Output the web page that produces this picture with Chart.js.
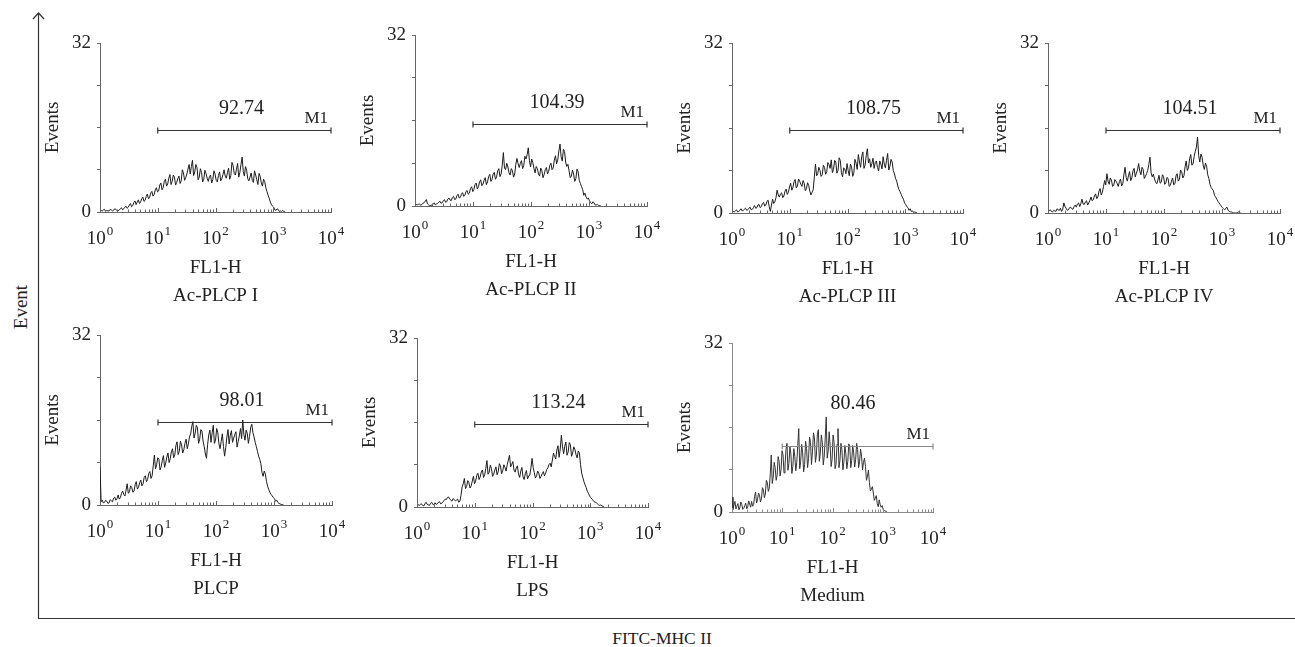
<!DOCTYPE html>
<html>
<head>
<meta charset="utf-8">
<script src="https://cdn.jsdelivr.net/npm/chart.js@4.4.0/dist/chart.umd.min.js"></script>
<style>
  body { margin: 0; background: #fff; width: 1295px; height: 647px; position: relative; overflow: hidden;
         font-family: "Liberation Serif", "DejaVu Serif", serif; color: #222; }
  canvas.panel { position: absolute; }
  #frame { position: absolute; left: 0; top: 0; }
  #eventTitle { position: absolute; left: 21px; top: 307px; transform: translate(-50%, -50%) rotate(-90deg);
                font-size: 19px; white-space: nowrap; }
  #fitcTitle { position: absolute; left: 662px; top: 638px; transform: translate(-50%, -50%);
               font-size: 17.5px; white-space: nowrap; }
</style>
</head>
<body>
<svg id="frame" width="1295" height="647">
  <line x1="38.5" y1="13" x2="38.5" y2="618.5" stroke="#333" stroke-width="1.2"/>
  <line x1="38" y1="618.5" x2="1295" y2="618.5" stroke="#333" stroke-width="1.2"/>
  <polyline points="33,19 38.5,13 44,19" fill="none" stroke="#333" stroke-width="1.2"/>
</svg>
<div id="eventTitle">Event</div>
<div id="fitcTitle">FITC-MHC II</div>

<script>
// FL1-H histograms, events per bin; one bin = 5 of 1024 log channels (4 decades)
const binWidth = 5;
const acPlcp1 = [
  0.4,0.3,0.2,0.4,0.5,0.1,0.3,0.2,0.2,0.5,0.4,0.2,0.3,0.6,0.5,0.3,0.2,0.4,0.6,0.8,
  0.4,0.6,0.9,1.1,0.7,0.9,1.3,1.6,1.0,1.2,1.8,2.1,1.4,1.9,2.3,1.6,1.9,2.5,2.8,2.0,
  2.2,3.0,3.4,2.5,2.8,3.6,3.9,3.0,3.3,4.2,4.6,3.8,4.0,5.1,5.5,4.2,4.6,5.8,6.2,4.9,
  5.3,6.4,7.1,5.2,5.8,7.0,6.6,5.1,5.6,6.3,6.8,5.4,5.9,8.0,7.4,6.0,6.5,7.2,8.1,9.0,
  7.2,8.6,9.8,6.9,7.6,9.0,8.4,6.1,6.6,8.2,7.5,5.7,6.2,7.9,7.3,6.4,5.8,6.7,7.0,5.5,
  6.1,7.8,7.2,6.0,5.7,6.9,7.6,5.9,6.3,7.1,8.0,6.8,6.4,7.5,8.3,6.2,6.9,9.4,8.8,7.3,
  7.0,8.1,9.2,6.6,7.5,9.0,10.4,7.7,6.8,8.6,7.9,6.3,5.9,6.6,7.4,6.0,5.6,7.8,7.0,6.1,
  5.2,7.3,6.8,5.5,4.9,6.2,5.8,4.6,3.9,3.2,2.6,1.9,1.4,1.1,0.9,0.4,0.3,0.6,0.5,0.1,
  0.2,0.1,0.3,0.1,0];
const acPlcp2 = [
  0.5,0.3,0.2,0.3,0.4,0.1,0.3,0.5,0.6,0.9,1.2,0.4,0.2,0.1,0.1,0.2,0.3,0.6,0.2,0.4,
  0.5,0.7,0.9,0.5,0.6,1.0,1.2,0.7,0.8,1.3,1.5,1.1,1.0,1.6,1.8,1.2,1.3,1.9,2.2,1.5,
  1.6,2.2,2.5,1.8,2.0,2.7,2.9,2.2,2.4,3.3,3.6,2.7,3.1,4.0,4.3,3.2,3.6,4.5,4.9,3.8,
  4.1,4.8,5.3,4.0,4.5,5.5,5.9,4.6,5.0,6.0,6.3,5.0,5.4,6.6,7.0,5.5,6.0,7.6,10.0,7.1,
  6.8,8.0,7.3,6.2,5.8,7.0,6.6,5.4,6.0,7.8,8.9,7.9,7.2,8.0,8.5,7.0,7.6,9.3,8.8,9.6,
  10.9,8.5,7.3,8.8,8.1,7.0,6.2,7.4,7.0,6.0,5.6,7.1,6.6,5.3,5.9,6.8,7.2,6.0,6.5,7.6,
  8.0,6.8,7.1,8.6,9.4,7.9,8.6,10.3,11.6,9.2,8.4,10.6,10.2,8.2,7.4,7.8,6.6,5.3,5.6,6.7,
  6.0,4.6,5.1,6.9,6.4,4.8,4.2,3.6,3.1,2.0,2.4,1.7,1.3,1.5,1.0,0.6,0.4,0.8,0.6,0.2,
  0.2,0.3,0.1,0.1,0];
const acPlcp3 = [
  0.4,0.3,0.2,0.4,0.6,0.2,0.3,0.5,0.8,0.4,0.5,0.7,0.9,0.5,0.6,0.9,1.1,0.6,0.7,1.0,
  1.4,0.9,1.0,1.5,1.6,1.0,1.2,1.8,2.0,1.3,1.5,2.2,2.4,1.2,0.3,1.5,2.6,1.8,2.1,2.9,
  4.3,3.4,3.0,3.6,3.8,2.9,3.2,4.1,4.5,3.5,3.9,4.9,5.6,4.3,4.8,5.9,6.3,4.7,5.1,6.4,
  6.0,5.4,5.0,6.1,5.6,4.2,4.6,5.7,5.2,4.1,3.4,3.9,4.4,6.8,9.2,7.0,7.4,8.6,8.0,6.9,
  7.2,9.0,8.6,7.3,7.8,9.5,9.1,8.4,10.0,7.6,8.2,9.9,9.6,7.5,8.0,10.4,9.9,7.6,6.8,8.5,
  8.3,7.4,9.3,8.0,7.0,9.2,8.7,6.9,7.5,10.1,9.4,8.2,11.0,9.6,8.6,10.6,11.5,8.4,9.0,10.8,
  12.1,9.4,10.2,8.6,9.3,10.3,8.4,9.5,9.8,8.6,7.9,9.8,9.2,8.3,10.6,9.2,8.5,9.9,11.2,8.1,
  8.8,10.1,9.6,8.0,7.4,6.5,6.0,5.1,4.4,4.0,3.5,3.0,2.6,1.9,1.6,1.2,1.0,0.5,0.8,0.3,
  0.4,0.1,0.2,0.1,0];
const acPlcp4 = [
  0.3,0.4,0.6,0.3,0.2,0.5,0.4,0.3,0.8,0.6,0.5,0.9,0.3,0.7,1.9,1.2,0.9,0.5,0.6,1.0,
  1.1,0.8,0.7,1.2,1.5,1.1,1.7,1.9,1.2,1.8,2.6,1.7,1.6,2.1,2.3,1.5,1.9,2.4,3.0,2.3,
  2.5,3.2,3.6,2.7,3.0,4.1,4.6,3.4,3.9,5.0,6.1,5.3,7.4,6.0,5.4,6.6,6.2,5.0,5.2,6.3,
  6.0,5.6,5.0,5.9,6.4,5.1,5.5,7.2,8.6,6.7,6.0,7.0,7.8,6.1,6.6,7.9,8.4,6.8,7.5,8.1,
  9.3,7.9,7.2,8.6,8.2,6.5,6.9,7.4,8.0,9.1,10.5,7.6,6.8,7.3,6.4,5.8,5.5,6.2,7.1,5.6,
  5.8,7.2,6.9,5.4,5.6,6.7,6.5,5.0,5.2,6.0,6.6,5.3,5.5,7.0,7.4,6.0,6.3,8.1,7.8,6.6,
  7.0,8.7,9.8,8.0,8.5,10.2,11.0,9.0,9.2,10.6,11.6,12.4,14.3,10.8,9.6,11.1,10.5,9.0,8.2,9.4,
  8.8,7.2,6.5,5.4,4.8,4.5,4.2,3.3,3.0,2.6,2.2,1.9,1.6,1.3,1.0,0.8,0.6,0.9,1.1,0.5,
  0.3,0.2,0.2,0.1,0,0,0,0,0.2,0.1,0];
const plcp = [
  7.2,0.6,0.9,0.4,0.5,0.9,0.7,0.3,0.4,1.0,0.8,0.6,1.3,1.5,0.9,1.2,1.9,1.1,1.4,2.2,
  2.6,2.0,1.7,2.8,4.0,2.2,2.5,3.6,3.3,2.4,2.6,3.8,4.4,3.0,3.3,4.2,4.7,3.6,4.0,5.2,
  5.5,4.4,4.8,5.9,6.3,5.0,5.5,7.4,9.4,6.8,7.6,8.9,8.6,6.6,7.2,8.4,9.3,7.1,7.9,9.0,
  9.8,8.0,8.7,10.0,10.6,8.9,9.4,11.2,11.9,9.5,10.1,12.0,11.3,9.8,10.4,11.6,12.4,10.6,11.5,12.8,
  13.4,14.8,15.7,12.6,13.5,15.0,14.6,11.6,12.4,14.2,13.9,12.0,11.0,9.6,8.8,11.4,13.2,14.1,11.8,13.6,
  15.0,11.6,12.2,14.4,13.6,11.5,10.6,12.0,13.4,11.0,9.2,10.8,12.8,14.2,11.5,13.1,14.0,11.8,12.6,13.3,
  13.8,10.9,12.0,13.0,14.4,12.5,16.0,13.3,12.2,14.1,13.5,11.6,12.9,14.6,15.2,13.6,12.8,11.8,11.0,10.1,
  9.2,8.6,7.8,6.1,5.4,6.4,5.8,4.4,3.5,2.9,2.4,2.0,1.7,1.4,1.2,0.7,0.9,0.5,0.3,0.2,
  0.1,0.1,0];
const lps = [
  0.8,0.4,0.3,0.5,0.6,0.3,0.2,0.6,0.9,0.5,0.4,0.3,0.7,0.9,0.5,0.4,0.8,0.5,0.6,0.9,
  1.0,0.6,0.7,1.0,1.2,1.5,1.4,1.8,1.9,1.5,1.3,1.1,1.6,1.4,1.2,1.3,1.5,0.9,1.1,2.2,
  3.8,4.4,5.4,3.5,3.9,5.0,4.6,3.6,4.0,4.9,5.8,4.4,4.9,6.0,6.4,5.2,5.7,6.6,7.0,5.6,
  6.1,7.3,8.8,6.2,6.6,7.9,7.3,5.8,6.2,7.0,7.6,6.1,6.7,8.2,7.8,6.3,6.9,8.0,7.5,6.8,
  8.0,8.9,9.8,7.6,8.1,8.6,7.0,6.6,7.4,7.8,6.2,5.6,6.8,7.5,5.7,5.2,6.3,6.9,5.3,5.9,
  6.0,7.4,9.2,7.5,6.5,5.5,5.9,6.8,6.4,5.4,5.8,6.3,6.7,5.9,6.4,7.1,7.4,8.0,8.3,7.6,
  8.9,10.2,9.6,9.1,10.8,11.6,9.4,11.0,13.6,11.4,10.1,11.5,12.3,9.8,10.4,12.2,11.8,9.6,10.2,11.4,
  10.9,9.9,9.3,10.6,10.2,8.0,6.4,5.6,4.8,4.2,3.7,3.0,2.6,2.1,1.8,1.5,1.3,1.0,0.9,0.8,
  0.6,0.4,0.3,0.4,0.2,0.1,0];
const medium = [
  2.8,0.5,1.3,2.0,0.6,1.1,1.6,0.4,0.8,1.9,1.4,0.5,0.7,1.2,1.7,0.6,1.0,2.1,1.5,0.9,
  2.0,1.1,1.4,2.9,3.8,1.7,2.3,3.6,3.2,1.9,2.5,4.6,4.2,2.7,3.4,6.0,5.6,3.9,4.5,7.2,
  10.8,5.4,6.6,9.4,8.4,6.0,7.0,10.5,9.6,6.8,8.0,11.6,10.8,7.4,8.7,11.8,13.0,7.9,9.2,12.4,
  11.0,7.3,8.6,12.0,10.5,7.8,9.4,12.6,15.8,8.2,9.6,12.8,11.2,7.6,9.0,13.4,12.0,8.4,10.1,14.2,
  13.2,9.0,11.4,15.0,14.0,9.4,10.8,14.8,15.6,9.6,11.2,14.6,13.2,8.9,10.6,14.0,18.0,10.2,11.5,15.2,
  12.6,8.6,10.0,14.6,13.2,8.2,9.0,12.8,15.8,8.4,9.8,13.0,11.8,8.0,9.4,12.6,11.0,8.2,9.6,12.9,
  12.4,8.4,9.8,12.6,11.2,8.5,10.0,13.0,11.8,8.4,9.6,11.9,10.6,8.0,9.4,10.2,8.6,6.0,6.8,7.9,
  5.6,4.0,4.3,4.8,3.6,2.2,2.6,3.1,1.6,1.0,2.3,1.4,0.9,1.2,0.5,0.3,0.2,0.1,0];

const panelSeries = [acPlcp1, acPlcp2, acPlcp3, acPlcp4, plcp, lps, medium];
const panelNames = ['Ac-PLCP I', 'Ac-PLCP II', 'Ac-PLCP III', 'Ac-PLCP IV', 'PLCP', 'LPS', 'Medium'];
const gateValues = ['92.74', '104.39', '108.75', '104.51', '98.01', '113.24', '80.46'];
const gateLevels = [15.5, 15.3, 15.6, 15.6, 15.6, 15.7, 12.5];
const xTickChannels = [0, 256, 512, 768, 1024];
const xTickExponents = ['0', '1', '2', '3', '4'];
const yTickValues = [0, 8, 16, 24, 32];
const yTickLabels = ['0', '', '', '', '32'];

// plot area of each panel on the page (left, top, right, bottom)
const boxes = [
  [100, 43, 331, 212], [415, 35, 647, 206], [732, 43, 963, 213], [1048, 43, 1280, 213],
  [100, 335, 332, 505], [417, 338, 648, 507], [732, 343, 933, 512]
];
const padL = 70, padT = 20, padR = 25, padB = 100;
const serif = '"Liberation Serif", "DejaVu Serif", serif';

// small log ticks pointing up from the x axis
const minorTicks = {
  id: 'minorTicks',
  afterDraw(chart, args, opts) {
    const x = chart.scales.x, ctx = chart.ctx, yb = chart.chartArea.bottom;
    ctx.save();
    ctx.strokeStyle = opts.color;
    ctx.lineWidth = 1;
    ctx.beginPath();
    for (let d = 0; d < 4; d++) {
      for (let k = 1; k <= 10; k++) {
        const px = Math.round(x.getPixelForValue(256 * (d + Math.log10(k)))) + 0.5;
        const len = (k === 1 || k === 10) ? 4 : 2.5;
        ctx.moveTo(px, yb);
        ctx.lineTo(px, yb - len);
      }
    }
    ctx.stroke();
    ctx.restore();
  }
};

// 10^n labels with a raised exponent
const decadeLabels = {
  id: 'decadeLabels',
  afterDraw(chart) {
    const x = chart.scales.x, ctx = chart.ctx, y0 = chart.chartArea.bottom + 27;
    ctx.save();
    ctx.fillStyle = '#222';
    ctx.textBaseline = 'middle';
    ctx.textAlign = 'left';
    xTickChannels.forEach((c, k) => {
      ctx.font = '19px ' + serif;
      const wb = ctx.measureText('10').width;
      ctx.font = '13px ' + serif;
      const we = ctx.measureText(xTickExponents[k]).width;
      const left = x.getPixelForValue(c) - (wb + we + 1) / 2;
      ctx.font = '19px ' + serif;
      ctx.fillText('10', left, y0);
      ctx.font = '13px ' + serif;
      ctx.fillText(xTickExponents[k], left + wb + 1, y0 - 7);
    });
    ctx.restore();
  }
};

// M1 marker with its mean value
const gateMarker = {
  id: 'gateMarker',
  afterDatasetsDraw(chart, args, opts) {
    const x = chart.scales.x, y = chart.scales.y, ctx = chart.ctx;
    const x1 = x.getPixelForValue(256), x2 = x.getPixelForValue(1024);
    const py = Math.round(y.getPixelForValue(opts.level)) + 0.5;
    ctx.save();
    ctx.strokeStyle = opts.color;
    ctx.lineWidth = 1.2;
    ctx.beginPath();
    ctx.moveTo(x1, py); ctx.lineTo(x2, py);
    ctx.moveTo(x1, py - 3); ctx.lineTo(x1, py + 3);
    ctx.moveTo(x2, py - 3); ctx.lineTo(x2, py + 3);
    ctx.stroke();
    ctx.fillStyle = '#222';
    ctx.textBaseline = 'middle';
    ctx.textAlign = 'center';
    ctx.font = '20px ' + serif;
    ctx.fillText(opts.value, x.getPixelForValue(opts.valueAt), py - opts.valueOffset);
    ctx.textAlign = 'right';
    ctx.font = '17px ' + serif;
    ctx.fillText('M1', x2 - 3, py - 12);
    ctx.restore();
  }
};

panelSeries.forEach((series, i) => {
  const [l, t, r, b] = boxes[i];
  const isMedium = panelNames[i] === 'Medium';
  const axisColor = isMedium ? '#8a8a8a' : '#666';
  const canvas = document.createElement('canvas');
  canvas.className = 'panel';
  canvas.width = r - l + padL + padR;
  canvas.height = b - t + padT + padB;
  canvas.style.left = (l - padL) + 'px';
  canvas.style.top = (t - padT) + 'px';
  document.body.appendChild(canvas);

  new Chart(canvas.getContext('2d'), {
    type: 'line',
    data: {
      datasets: [{
        data: series.map((v, k) => ({ x: k * binWidth, y: v })),
        borderColor: isMedium ? '#333' : '#1c1c1c',
        borderWidth: 1,
        pointRadius: 0,
        tension: 0,
        fill: false
      }]
    },
    options: {
      responsive: false,
      animation: false,
      devicePixelRatio: 1,
      layout: { padding: { left: 0, top: padT, right: padR, bottom: 0 } },
      plugins: {
        legend: { display: false },
        tooltip: { enabled: false },
        minorTicks: { color: axisColor },
        gateMarker: {
          level: gateLevels[i], value: gateValues[i],
          valueAt: isMedium ? 617 : 627, valueOffset: isMedium ? 43 : 22,
          color: isMedium ? '#888' : '#333'
        }
      },
      scales: {
        x: {
          type: 'linear', min: 0, max: 1024,
          afterBuildTicks: s => { s.ticks = xTickChannels.map(v => ({ value: v })); },
          afterFit: s => { s.height = padB; },
          grid: { drawOnChartArea: false, drawTicks: false },
          border: { display: true, color: axisColor, width: 1 },
          ticks: { display: false },
          title: {
            display: true, text: ['FL1-H', panelNames[i]], color: '#222',
            font: { family: serif, size: 19, lineHeight: 1.47 },
            padding: { top: 0, bottom: 2 }
          }
        },
        y: {
          min: 0, max: 32,
          afterBuildTicks: s => { s.ticks = yTickValues.map(v => ({ value: v })); },
          afterFit: s => { s.width = padL; },
          grid: { drawOnChartArea: false, drawTicks: true, tickLength: 3, color: axisColor },
          border: { display: true, color: axisColor, width: 1 },
          ticks: {
            padding: 6, color: '#222',
            font: { family: serif, size: 19 },
            callback: (v, k) => yTickLabels[k]
          },
          title: {
            display: true, text: 'Events', color: '#222',
            font: { family: serif, size: 19 },
            padding: { top: 12, bottom: 0 }
          }
        }
      }
    },
    plugins: [minorTicks, decadeLabels, gateMarker]
  });
});
</script>
</body>
</html>
